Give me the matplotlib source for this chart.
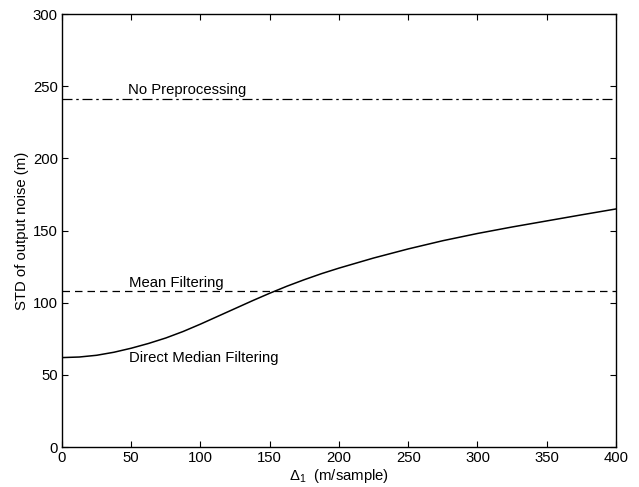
import matplotlib
matplotlib.use("Agg")
import matplotlib.pyplot as plt
import numpy as np

plt.rcParams['font.family'] = ['Liberation Sans', 'DejaVu Sans']
plt.rcParams['mathtext.fontset'] = 'custom'
plt.rcParams['mathtext.rm'] = 'Liberation Sans'
plt.rcParams['mathtext.it'] = 'Liberation Sans'

delta = [0, 12.5, 25, 37.5, 50, 62.5, 75, 87.5, 100, 112.5, 125, 137.5, 150, 162.5,
         175, 187.5, 200, 225, 250, 275, 300, 325, 350, 375, 400]
median_std = [62, 62.4, 63.6, 65.7, 68.5, 71.8, 75.6, 80.1, 85.2, 90.6, 96.0, 101.4, 106.6, 111.5,
              116.0, 120.2, 124.0, 131.0, 137.3, 143.0, 148.0, 152.5, 156.7, 160.9, 165]
no_pre_std = 241.5
mean_std = 108

fig = plt.figure(figsize=(6.39, 4.87), dpi=100)
ax = fig.add_axes([0.097, 0.082, 0.867, 0.889])

ax.plot(delta, median_std, color='black', lw=1.1)
ax.plot([0, 400], [no_pre_std, no_pre_std], color='black', lw=0.9, linestyle=(0, (8, 3, 2, 3)))
ax.plot([0, 400], [mean_std, mean_std], color='black', lw=0.9, linestyle=(0, (6, 4)))

fs = 10.7
ax.text(47.5, 247.5, 'No Preprocessing', fontsize=fs, va='center', ha='left')
ax.text(48.5, 114, 'Mean Filtering', fontsize=fs, va='center', ha='left')
ax.text(48.5, 61.5, 'Direct Median Filtering', fontsize=fs, va='center', ha='left')

ax.set_xlim(0, 400)
ax.set_ylim(0, 300)
ax.set_xticks(np.arange(0, 401, 50))
ax.set_yticks(np.arange(0, 301, 50))
ax.tick_params(direction='in', top=True, right=True, labelsize=fs, length=4, width=0.8, pad=3)
for s in ax.spines.values():
    s.set_linewidth(1.0)

ax.set_xlabel(r'$\Delta_1$  (m/sample)', fontsize=fs, labelpad=1)
ax.set_ylabel('STD of output noise (m)', fontsize=fs, labelpad=3)

fig.savefig('out.png', dpi=100)
